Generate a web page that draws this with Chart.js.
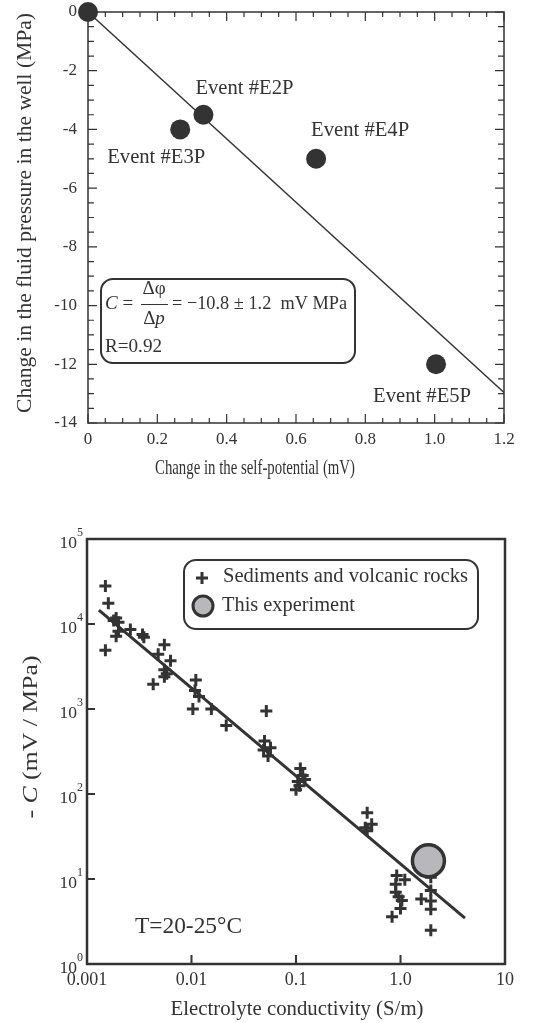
<!DOCTYPE html>
<html>
<head>
<meta charset="utf-8">
<title>Self-potential vs pressure</title>
<script src="https://cdn.jsdelivr.net/npm/chart.js"></script>
<style>
  body { margin: 0; background: #fff; }
  canvas { position: absolute; left: 0; }
  #pressureChart { top: 0; }
  #couplingChart { top: 500px; }
</style>
</head>
<body>
<canvas id="pressureChart" width="533" height="500"></canvas>
<canvas id="couplingChart" width="533" height="523"></canvas>
<script>
// ---- top chart: pressure change vs self-potential change ----
const eventNames = ['', 'Event #E3P', 'Event #E2P', 'Event #E4P', 'Event #E5P'];
const eventSP = [0, 0.266, 0.333, 0.658, 1.004];
const eventPressure = [0, -4.0, -3.5, -5.0, -12.0];
const fitSP = [0, 1.2];
const fitPressure = [0, -12.96];
const spTicks = [0, 0.2, 0.4, 0.6, 0.8, 1.0, 1.2];
const spTickLabels = ['0', '0.2', '0.4', '0.6', '0.8', '1.0', '1.2'];
const pressureTicks = [0, -2, -4, -6, -8, -10, -12, -14];
const pressureTickLabels = ['0', '-2', '-4', '-6', '-8', '-10', '-12', '-14'];

// ---- bottom chart: coupling coefficient vs conductivity ----
const rockSigma = [
  0.0015, 0.0016, 0.0019, 0.0020, 0.0018, 0.0019, 0.0020, 0.0015, 0.0026, 0.0034,
  0.0035, 0.0048, 0.0055, 0.0063, 0.0055, 0.0058, 0.0055, 0.0043,
  0.0110, 0.0108, 0.0118, 0.0103, 0.0155, 0.0215,
  0.052, 0.050, 0.049, 0.057, 0.054,
  0.110, 0.116, 0.104, 0.122, 0.100, 0.108,
  0.48, 0.53, 0.46, 0.48,
  0.92, 1.10, 0.90, 0.90, 0.96, 1.03, 1.00, 0.83, 1.58, 1.95, 1.95, 1.95, 1.95, 1.95
];
const rockC = [
  28000, 17500, 11800, 10500, 11000, 7200, 8200, 4900, 8600, 7500,
  7000, 4400, 5700, 3700, 2900, 2600, 2400, 1950,
  2200, 1650, 1400, 1000, 1000, 640,
  950, 420, 330, 350, 280,
  200, 165, 140, 148, 112, 125,
  60, 44, 40, 37,
  11, 9.8, 8.7, 7.0, 6.2, 5.6, 4.5, 3.6, 5.8, 10.5, 7.3, 5.5, 4.4, 2.5
];
const expSigma = [1.85];
const expC = [16.4];
const trendSigma = [0.0013, 4.14];
const trendC = [14600, 3.47];
const sigmaTicks = [0.001, 0.01, 0.1, 1, 10];
const sigmaTickLabels = ['0.001', '0.01', '0.1', '1.0', '10'];
const cTicks = [1, 10, 100, 1000, 10000, 100000];
const cTickExponents = ['0', '1', '2', '3', '4', '5'];

const INK = '#333';
const SERIF = '"Liberation Serif", "Times New Roman", serif';

// draw a row of text runs, optionally squeezed to a given width and rotated
function drawRuns(ctx, runs, x, y, opt) {
  opt = opt || {};
  ctx.save();
  let total = 0;
  runs.forEach(r => { ctx.font = r.font; r.w = ctx.measureText(r.t).width; total += r.w; });
  const s = opt.width ? opt.width / total : 1;
  ctx.translate(x, y);
  if (opt.rotate) ctx.rotate(-Math.PI / 2);
  ctx.scale(s, 1);
  let cx = opt.align === 'left' ? 0 : -total / 2;
  ctx.fillStyle = INK;
  ctx.textAlign = 'left';
  ctx.textBaseline = 'middle';
  runs.forEach(r => { ctx.font = r.font; ctx.fillText(r.t, cx, r.dy || 0); cx += r.w; });
  ctx.restore();
  return total * s;
}
const f = (size, style) => (style ? style + ' ' : '') + size + 'px ' + SERIF;

const topAxes = {
  id: 'topAxes',
  beforeDatasetsDraw(chart) {
    const ctx = chart.ctx, a = chart.chartArea, xs = chart.scales.x, ys = chart.scales.y;
    ctx.save();
    ctx.strokeStyle = INK;
    ctx.lineWidth = 1.5;
    ctx.strokeRect(a.left, a.top, a.right - a.left, a.bottom - a.top);
    ctx.lineWidth = 1.2;
    ctx.beginPath();
    for (let i = 0; i <= 24; i++) {
      const px = xs.getPixelForValue(i * 0.05);
      const len = i % 4 === 0 ? 9 : 5;
      ctx.moveTo(px, a.bottom); ctx.lineTo(px, a.bottom - len);
      ctx.moveTo(px, a.top); ctx.lineTo(px, a.top + len);
    }
    for (let i = 0; i <= 28; i++) {
      const py = ys.getPixelForValue(-i * 0.5);
      const len = i % 4 === 0 ? 9 : 6;
      ctx.moveTo(a.left, py); ctx.lineTo(a.left + len, py);
      ctx.moveTo(a.right, py); ctx.lineTo(a.right - len, py);
    }
    ctx.stroke();
    ctx.restore();
  },
  afterDraw(chart) {
    const ctx = chart.ctx, xs = chart.scales.x, ys = chart.scales.y;
    ctx.save();
    ctx.fillStyle = INK;
    ctx.font = f(17);
    ctx.textBaseline = 'middle';
    ctx.textAlign = 'center';
    spTicks.forEach((v, i) => ctx.fillText(spTickLabels[i], xs.getPixelForValue(v), 440));
    ctx.textAlign = 'right';
    pressureTicks.forEach((v, i) => ctx.fillText(pressureTickLabels[i], 77, ys.getPixelForValue(v)));
    ctx.restore();

    // event labels, placed next to their points
    const offs = [null, [-24, 28], [41, -26], [44, -28], [-14, 32]];
    eventNames.forEach((n, i) => {
      if (!n) return;
      const px = xs.getPixelForValue(eventSP[i]) + offs[i][0];
      const py = ys.getPixelForValue(eventPressure[i]) + offs[i][1];
      drawRuns(ctx, [{ t: n, font: f(21) }], px, py, { width: 98 });
    });

    // equation box
    ctx.save();
    ctx.strokeStyle = INK;
    ctx.lineWidth = 2;
    ctx.beginPath();
    ctx.roundRect(101, 279, 254, 84, 12);
    ctx.stroke();
    ctx.restore();
    drawRuns(ctx, [{ t: 'C', font: f(19, 'italic') }, { t: ' =', font: f(19) }], 105, 304, { align: 'left' });
    drawRuns(ctx, [{ t: 'Δφ', font: f(19) }], 154, 289);
    ctx.save();
    ctx.strokeStyle = INK; ctx.lineWidth = 1;
    ctx.beginPath(); ctx.moveTo(141, 304.5); ctx.lineTo(168, 304.5); ctx.stroke();
    ctx.restore();
    drawRuns(ctx, [{ t: 'Δ', font: f(19) }, { t: 'p', font: f(19, 'italic') }], 154, 319);
    drawRuns(ctx, [{ t: '= −10.8 ± 1.2  mV MPa', font: f(19) }], 172, 304, { align: 'left', width: 175 });
    drawRuns(ctx, [{ t: 'R=0.92', font: f(19) }], 105, 347, { align: 'left', width: 57 });

    // axis titles
    drawRuns(ctx, [{ t: 'Change in the self-potential (mV)', font: f(22) }], 255, 468, { width: 200 });
    drawRuns(ctx, [{ t: 'Change in the fluid pressure in the well (MPa)', font: f(21.5) }], 25, 213, { width: 400, rotate: true });
  }
};

new Chart(document.getElementById('pressureChart'), {
  type: 'scatter',
  data: {
    datasets: [
      {
        type: 'line',
        data: fitSP.map((x, i) => ({ x: x, y: fitPressure[i] })),
        borderColor: INK, borderWidth: 1.5, pointRadius: 0, fill: false, clip: false, order: 2
      },
      {
        data: eventSP.map((x, i) => ({ x: x, y: eventPressure[i] })),
        backgroundColor: INK, borderColor: INK, borderWidth: 0, pointRadius: 10, clip: false, order: 1
      }
    ]
  },
  options: {
    responsive: false, animation: false, events: [],
    layout: { padding: { left: 88, right: 29, top: 12, bottom: 77 } },
    plugins: { legend: { display: false }, tooltip: { enabled: false } },
    scales: {
      x: { type: 'linear', min: 0, max: 1.2, display: false },
      y: { type: 'linear', min: -14, max: 0, display: false }
    }
  },
  plugins: [topAxes]
});

const bottomAxes = {
  id: 'bottomAxes',
  beforeDatasetsDraw(chart) {
    const ctx = chart.ctx, a = chart.chartArea, xs = chart.scales.x, ys = chart.scales.y;
    ctx.save();
    ctx.strokeStyle = INK;
    ctx.lineWidth = 2.5;
    ctx.strokeRect(a.left, a.top, a.right - a.left, a.bottom - a.top);
    ctx.lineWidth = 2;
    ctx.beginPath();
    sigmaTicks.slice(1, -1).forEach(v => {
      const px = xs.getPixelForValue(v);
      ctx.moveTo(px, a.bottom); ctx.lineTo(px, a.bottom - 9);
    });
    cTicks.slice(1, -1).forEach(v => {
      const py = ys.getPixelForValue(v);
      ctx.moveTo(a.left, py); ctx.lineTo(a.left + 8, py);
    });
    ctx.stroke();
    ctx.restore();
  },
  afterDraw(chart) {
    const ctx = chart.ctx, xs = chart.scales.x, ys = chart.scales.y;
    ctx.save();
    ctx.fillStyle = INK;
    ctx.textBaseline = 'middle';
    ctx.font = f(18);
    ctx.textAlign = 'center';
    sigmaTicks.forEach((v, i) => ctx.fillText(sigmaTickLabels[i], xs.getPixelForValue(v), 480));
    cTicks.forEach((v, i) => {
      const py = ys.getPixelForValue(v);
      ctx.font = f(12);
      ctx.textAlign = 'right';
      ctx.fillText(cTickExponents[i], 83, py - 6);
      const ew = ctx.measureText(cTickExponents[i]).width;
      ctx.font = f(17.5);
      ctx.fillText('10', 83 - ew, py + 4);
    });
    ctx.restore();

    // legend
    ctx.save();
    ctx.strokeStyle = INK;
    ctx.lineWidth = 2;
    ctx.beginPath();
    ctx.roundRect(184, 60, 294, 69, 12);
    ctx.stroke();
    ctx.lineWidth = 3;
    ctx.beginPath();
    ctx.moveTo(196, 78); ctx.lineTo(208, 78);
    ctx.moveTo(202, 72); ctx.lineTo(202, 84);
    ctx.stroke();
    ctx.beginPath();
    ctx.arc(203, 106, 10, 0, Math.PI * 2);
    ctx.fillStyle = '#b8b8bc';
    ctx.fill();
    ctx.lineWidth = 3;
    ctx.stroke();
    ctx.restore();
    drawRuns(ctx, [{ t: 'Sediments and volcanic rocks', font: f(20.5) }], 223, 77, { align: 'left', width: 245 });
    drawRuns(ctx, [{ t: 'This experiment', font: f(20.5) }], 222, 106, { align: 'left', width: 133 });

    drawRuns(ctx, [{ t: 'T=20-25°C', font: f(23) }], 135, 427, { align: 'left', width: 107 });
    drawRuns(ctx, [{ t: 'Electrolyte conductivity (S/m)', font: f(20.5) }], 297, 510, { width: 253 });
    drawRuns(ctx, [
      { t: '- ', font: f(20) },
      { t: 'C', font: f(20, 'italic') },
      { t: ' (mV / MPa)', font: f(20) }
    ], 32, 237, { width: 163, rotate: true });
  }
};

new Chart(document.getElementById('couplingChart'), {
  type: 'scatter',
  data: {
    datasets: [
      {
        type: 'line',
        data: trendSigma.map((x, i) => ({ x: x, y: trendC[i] })),
        borderColor: INK, borderWidth: 3, pointRadius: 0, fill: false, order: 3
      },
      {
        data: rockSigma.map((x, i) => ({ x: x, y: rockC[i] })),
        pointStyle: 'cross', pointRadius: 6, borderWidth: 3, borderColor: INK, order: 2
      },
      {
        data: expSigma.map((x, i) => ({ x: x, y: expC[i] })),
        pointRadius: 16, borderWidth: 3.5, borderColor: INK, backgroundColor: '#b8b8bc', order: 1
      }
    ]
  },
  options: {
    responsive: false, animation: false, events: [],
    layout: { padding: { left: 87, right: 28, top: 39, bottom: 59 } },
    plugins: { legend: { display: false }, tooltip: { enabled: false } },
    scales: {
      x: { type: 'logarithmic', min: 0.001, max: 10, display: false },
      y: { type: 'logarithmic', min: 1, max: 100000, display: false }
    }
  },
  plugins: [bottomAxes]
});
</script>
</body>
</html>
